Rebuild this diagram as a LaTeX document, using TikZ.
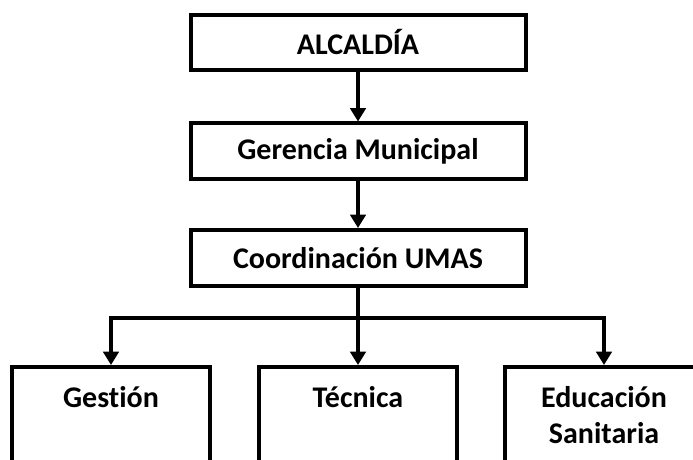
\documentclass[tikz,border=0pt]{standalone}
\usepackage{fontspec}
\setmainfont{Carlito}[Ligatures=NoCommon]
\usetikzlibrary{arrows.meta}
\begin{document}
\begin{tikzpicture}[x=0.75pt,y=-0.75pt,
  txt/.style={font=\bfseries\fontsize{22.5}{27}\selectfont},
  box/.style={draw, line width=3pt, minimum width=251.25pt, minimum height=41.25pt, inner sep=0pt, txt},
  unitbox/.style={draw, line width=3pt, minimum width=148.5pt, minimum height=100pt, inner sep=0pt},
  lbl/.style={txt, align=center, inner sep=0pt, anchor=north},
  conn/.style={line width=3pt, -{Triangle[width=11.5pt,length=10pt]}},
]
\useasboundingbox (0,0) rectangle (693,460);
\clip (0,0) rectangle (693,460);
\node[box] (alc) at (358,42.5) {ALCALDÍA};
\node[box] (ger) at (358,151) {Gerencia Municipal};
\node[box, minimum height=42pt] (coo) at (358,258) {Coordinación UMAS};
\node[unitbox] (ges) at (111,433.7) {};
\node[unitbox] (tec) at (358,433.7) {};
\node[unitbox] (edu) at (604,433.7) {};
\node[lbl] (gesl) at (111,386) {Gestión};
\node[lbl] (tecl) at (358,386) {Técnica};
\node[lbl] (edul) at (604,386) {Educación\\Sanitaria};
\coordinate (bus) at (358,318);
\draw[conn] (alc.south) -- (ger.north);
\draw[conn] (ger.south) -- (coo.north);
\draw[conn] (coo.south) -- (tec.north);
\draw[conn] (bus) -| (ges.north);
\draw[conn] (bus) -| (edu.north);
\end{tikzpicture}
\end{document}
